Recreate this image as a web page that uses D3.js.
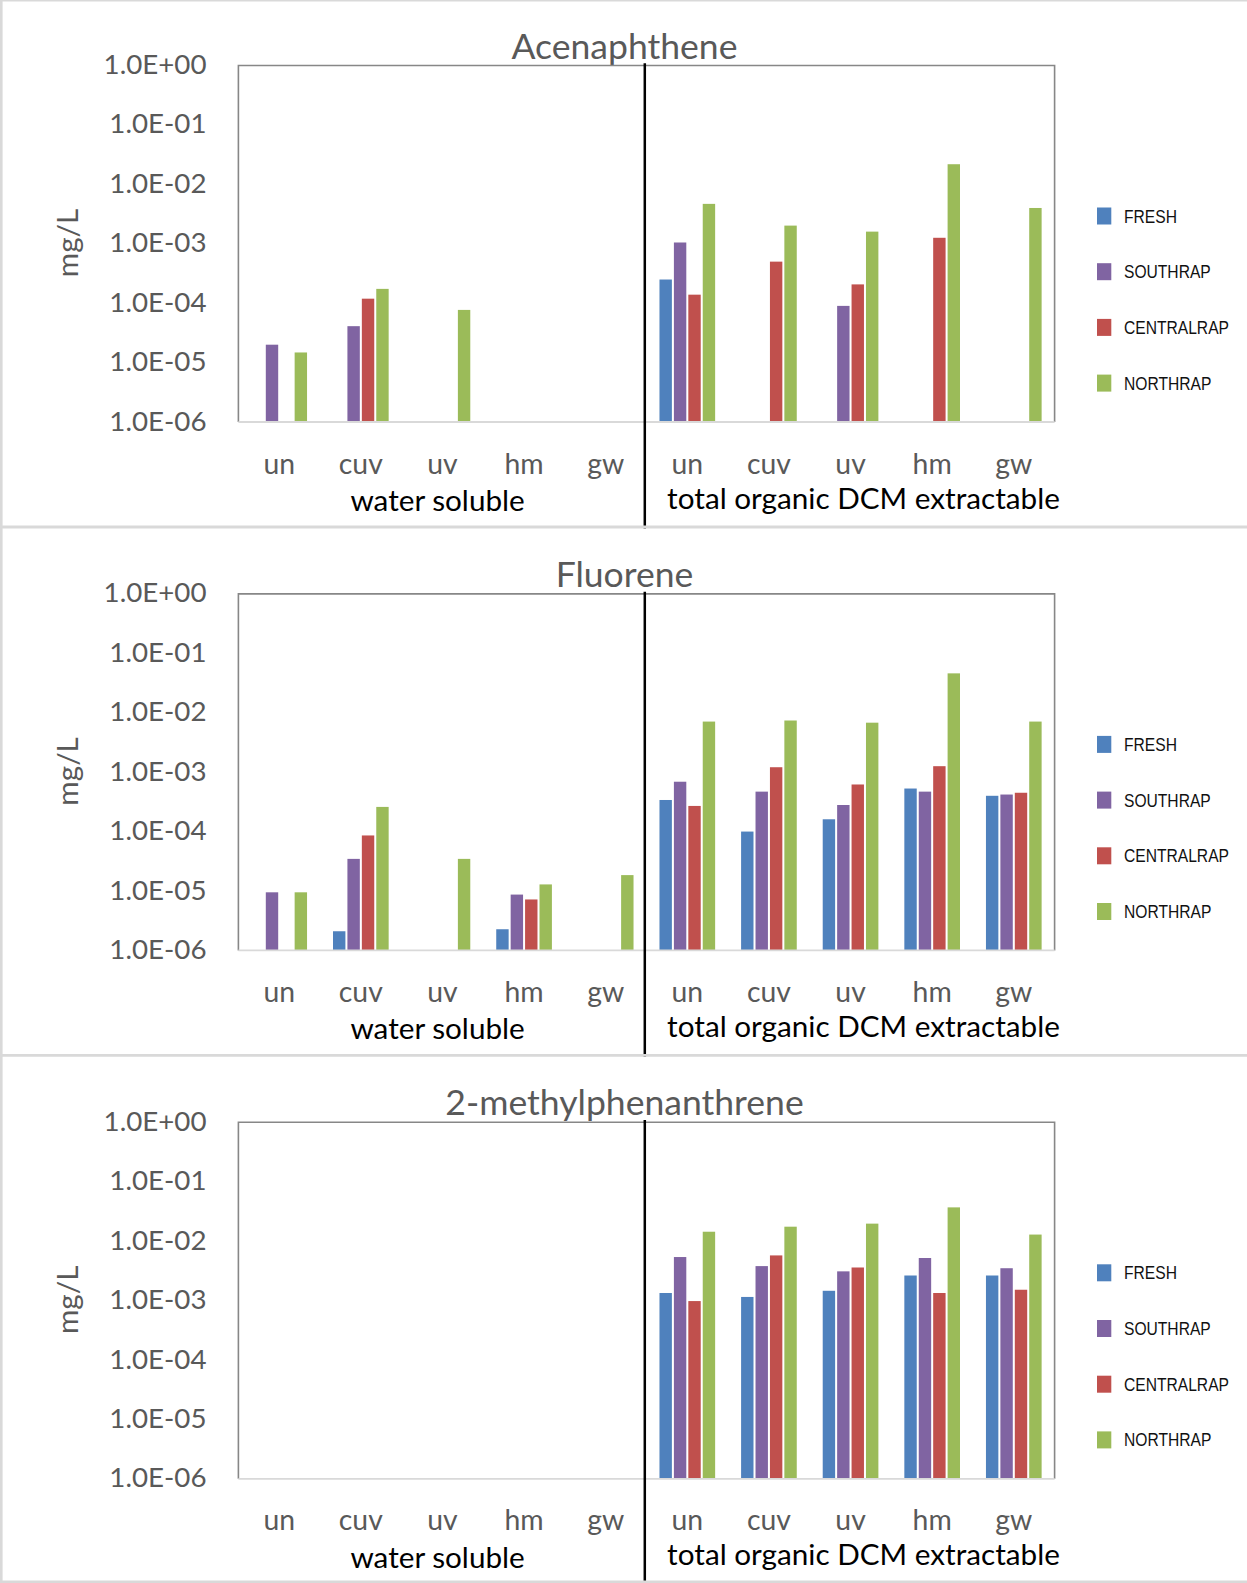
<!DOCTYPE html>
<html>
<head>
<meta charset="utf-8">
<script src="https://cdn.jsdelivr.net/npm/d3@7"></script>
<style>
  html, body { margin: 0; padding: 0; background: #fff; }
  svg { display: block; }
</style>
</head>
<body>
<svg id="chart" width="1247" height="1583"></svg>
<script>
// ---------- data ----------
const categories = ["un", "cuv", "uv", "hm", "gw"];
const groups = ["water soluble", "total organic DCM extractable"];
const series = ["FRESH", "SOUTHRAP", "CENTRALRAP", "NORTHRAP"];
const seriesColors = ["#4F81BD", "#8064A2", "#C0504D", "#9BBB59"];
const titles = ["Acenaphthene", "Fluorene", "2-methylphenanthrene"];
const yTickValues = [1, 1e-1, 1e-2, 1e-3, 1e-4, 1e-5, 1e-6];
const yTickLabels = ["1.0E+00", "1.0E-01", "1.0E-02", "1.0E-03", "1.0E-04", "1.0E-05", "1.0E-06"];
const yAxisTitle = "mg/L";

// values: first 5 = water soluble (un, cuv, uv, hm, gw), last 5 = total organic DCM extractable
const aceFresh   = [null, null, null, null, null, 2.5e-4, null, null, null, null];
const aceSouth   = [2.0e-5, 4.1e-5, null, null, null, 1.05e-3, null, 9.0e-5, null, null];
const aceCentral = [null, 1.19e-4, null, null, null, 1.39e-4, 5.0e-4, 2.07e-4, 1.26e-3, null];
const aceNorth   = [1.48e-5, 1.74e-4, 7.7e-5, null, null, 4.69e-3, 2.02e-3, 1.6e-3, 2.18e-2, 4.0e-3];

const fluFresh   = [null, 2.1e-6, null, 2.27e-6, null, 3.4e-4, 1.0e-4, 1.61e-4, 5.3e-4, 4.0e-4];
const fluSouth   = [9.5e-6, 3.47e-5, null, 8.7e-6, null, 6.9e-4, 4.7e-4, 2.8e-4, 4.7e-4, 4.2e-4];
const fluCentral = [null, 8.6e-5, null, 7.2e-6, null, 2.7e-4, 1.21e-3, 6.2e-4, 1.26e-3, 4.5e-4];
const fluNorth   = [9.5e-6, 2.6e-4, 3.47e-5, 1.29e-5, 1.85e-5, 7.1e-3, 7.4e-3, 6.8e-3, 4.6e-2, 7.1e-3];

const mpFresh    = [null, null, null, null, null, 1.34e-3, 1.15e-3, 1.46e-3, 2.64e-3, 2.64e-3];
const mpSouth    = [null, null, null, null, null, 5.4e-3, 3.8e-3, 3.1e-3, 5.2e-3, 3.5e-3];
const mpCentral  = [null, null, null, null, null, 9.8e-4, 5.75e-3, 3.6e-3, 1.34e-3, 1.52e-3];
const mpNorth    = [null, null, null, null, null, 1.44e-2, 1.75e-2, 1.97e-2, 3.7e-2, 1.29e-2];

const panelData = [
  [aceFresh, aceSouth, aceCentral, aceNorth],
  [fluFresh, fluSouth, fluCentral, fluNorth],
  [mpFresh, mpSouth, mpCentral, mpNorth]
];

// ---------- layout ----------
const W = 1247, H = 1583, PH = 528.4;
const plotL = 238.4, plotR = 1054.6, plotT = 65.5, plotB = 422;
const dividerX = 644.8;
const textGray = "#595959";
const fontMain = "Lato, 'Open Sans', sans-serif";
const fontLegend = "'Liberation Sans', Arial, sans-serif";

const svg = d3.select("#chart");
svg.append("rect").attr("width", W).attr("height", H).attr("fill", "#fff");

const slots = d3.range(10);
const x0 = d3.scaleBand().domain(slots).range([plotL, plotR]).paddingInner(0).paddingOuter(0);
const x1 = d3.scaleBand().domain(series).range([0, x0.bandwidth()]).paddingInner(0.14).paddingOuter(0.9);
const y = d3.scaleLog().domain([1e-6, 1]).range([plotB, plotT]);

function fitSize(node, target) {
  const fs = parseFloat(node.getAttribute("font-size"));
  const w = node.getComputedTextLength();
  return fs * target / w;
}

// measure fonts once
const probe = svg.append("g");
const tProbe = probe.append("text").attr("font-family", fontMain).attr("font-size", 28).text("1.0E+00");
const tickFont = fitSize(tProbe.node(), 103);
const ttlProbe = probe.append("text").attr("font-family", fontMain).attr("font-size", 34).text("Acenaphthene");
const titleFont = fitSize(ttlProbe.node(), 226);
const xlProbe = probe.append("text").attr("font-family", fontMain).attr("font-size", 28).text("total organic DCM extractable");
const xlabFont = fitSize(xlProbe.node(), 393);
const cProbe = probe.append("text").attr("font-family", fontMain).attr("font-size", 28).text("cuv");
const catFont = fitSize(cProbe.node(), 44);
const lProbe = probe.append("text").attr("font-family", fontLegend).attr("font-size", 16).text("CENTRALRAP");
const legFont = fitSize(lProbe.node(), 105);
probe.remove();

panelData.forEach((data, p) => {
  const g = svg.append("g").attr("transform", `translate(0,${p * PH})`);

  // title
  g.append("text")
    .attr("x", 624.5).attr("y", 58.5)
    .attr("text-anchor", "middle")
    .attr("font-family", fontMain).attr("font-size", titleFont)
    .attr("fill", textGray)
    .text(titles[p]);

  // plot frame (top, left, right)
  g.append("path")
    .attr("d", `M${plotL},${plotB} V${plotT} H${plotR} V${plotB}`)
    .attr("fill", "none").attr("stroke", "#878787").attr("stroke-width", 1.6);

  // y axis labels
  const yAxis = d3.axisLeft(y)
    .tickValues(yTickValues)
    .tickFormat((d, i) => yTickLabels[i])
    .tickSize(0).tickPadding(plotL - 206.5);
  const ya = g.append("g").attr("transform", `translate(${plotL},0)`).call(yAxis);
  ya.select(".domain").remove();
  ya.selectAll("text")
    .attr("font-family", fontMain).attr("font-size", tickFont)
    .attr("fill", textGray).attr("dy", "0.29em");

  // y axis title
  g.append("text")
    .attr("transform", "translate(66.3,243) rotate(-90)")
    .attr("text-anchor", "middle").attr("dominant-baseline", "central")
    .attr("font-family", fontMain).attr("font-size", xlabFont)
    .attr("fill", textGray)
    .text(yAxisTitle);

  // bars
  series.forEach((s, si) => {
    g.append("g").selectAll("rect")
      .data(data[si].map((v, i) => ({ v, i })).filter(d => d.v != null))
      .join("rect")
      .attr("x", d => x0(d.i) + x1(s))
      .attr("width", x1.bandwidth())
      .attr("y", d => y(d.v))
      .attr("height", d => y(1e-6) - y(d.v))
      .attr("fill", seriesColors[si]);
  });

  // x axis baseline
  g.append("line")
    .attr("x1", plotL).attr("x2", plotR).attr("y1", plotB).attr("y2", plotB)
    .attr("stroke", "#d9d9d9").attr("stroke-width", 1.8);

  // category labels
  const xAxis = d3.axisBottom(x0)
    .tickFormat(i => categories[i % 5])
    .tickSize(0).tickPadding(0);
  const xa = g.append("g").attr("transform", `translate(0,${plotB})`).call(xAxis);
  xa.select(".domain").remove();
  xa.selectAll("text")
    .attr("y", 473.5 - plotB).attr("dy", null)
    .attr("font-family", fontMain).attr("font-size", catFont)
    .attr("fill", textGray);

  // group labels
  g.append("text")
    .attr("x", 437.6).attr("y", 511).attr("text-anchor", "middle")
    .attr("font-family", fontMain).attr("font-size", xlabFont)
    .attr("fill", "#000").text(groups[0]);
  g.append("text")
    .attr("x", 863.5).attr("y", 508.5).attr("text-anchor", "middle")
    .attr("font-family", fontMain).attr("font-size", xlabFont)
    .attr("fill", "#000").text(groups[1]);

  // divider
  g.append("line")
    .attr("x1", dividerX).attr("x2", dividerX)
    .attr("y1", 63.3).attr("y2", p === 2 ? H - p * PH : PH)
    .attr("stroke", "#000").attr("stroke-width", 2.5);

  // legend
  const leg = g.append("g");
  series.forEach((s, si) => {
    const cy = 216 + si * 55.7;
    leg.append("rect")
      .attr("x", 1097).attr("y", cy - 8.5).attr("width", 14.3).attr("height", 17)
      .attr("fill", seriesColors[si]);
    leg.append("text")
      .attr("transform", `translate(1124,${cy + 6.5}) scale(1,1.13)`)
      .attr("font-family", fontLegend).attr("font-size", legFont)
      .attr("fill", "#111").text(s);
  });
});

// panel borders
const border = svg.append("g").attr("stroke", "#d9d9d9").attr("fill", "none");
border.append("line").attr("x1", 1.3).attr("x2", 1.3).attr("y1", 0).attr("y2", H).attr("stroke-width", 2.6);
border.append("line").attr("x1", 0).attr("x2", W).attr("y1", 0.7).attr("y2", 0.7).attr("stroke-width", 1.4);
[1, 2].forEach(p => {
  border.append("line").attr("x1", 0).attr("x2", W)
    .attr("y1", p * PH - 1.4).attr("y2", p * PH - 1.4).attr("stroke-width", 2.8);
});
border.append("line").attr("x1", 0).attr("x2", W).attr("y1", H - 1.3).attr("y2", H - 1.3).attr("stroke-width", 2.6);
</script>
</body>
</html>
